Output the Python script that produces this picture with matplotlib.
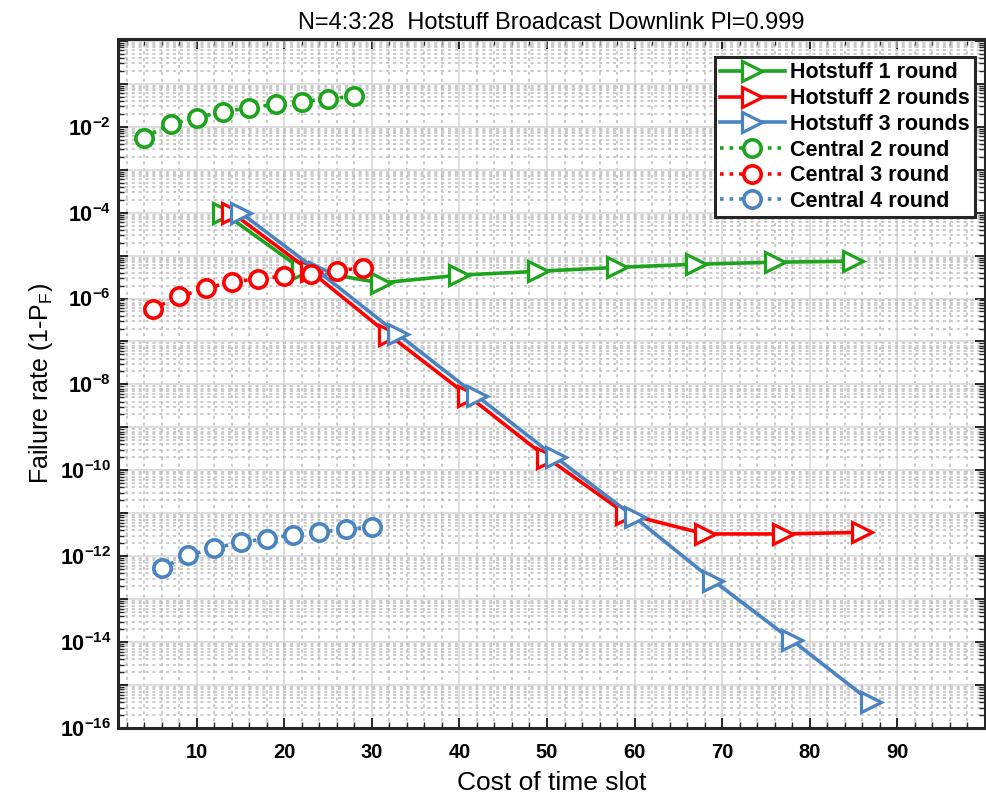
import matplotlib
matplotlib.use('Agg')
import matplotlib.pyplot as plt
from matplotlib.ticker import FixedLocator, MultipleLocator, FuncFormatter, LogLocator, NullFormatter
import numpy as np

# data
hs1_x = [13, 22, 31, 40, 49, 58, 67, 76, 85]
hs1_y = [1.0e-4, 4.8e-6, 2.3e-6, 3.5e-6, 4.3e-6, 5.3e-6, 6.3e-6, 7.0e-6, 7.4e-6]

hs2_x = [14, 23, 32, 41, 50, 59, 68, 77, 86]
hs2_y = [1.0e-4, 4.3e-6, 1.4e-7, 5.4e-9, 1.96e-10, 9.7e-12, 3.3e-12, 3.3e-12, 3.6e-12]

hs3_x = [15, 24, 33, 42, 51, 60, 69, 78, 87]
hs3_y = [1.0e-4, 4.1e-6, 1.46e-7, 5.4e-9, 2.0e-10, 8.1e-12, 2.7e-13, 1.1e-14, 4.1e-16]

c2_x = [4, 7, 10, 13, 16, 19, 22, 25, 28]
c2_y = [5.6e-3, 1.14e-2, 1.63e-2, 2.21e-2, 2.78e-2, 3.32e-2, 3.83e-2, 4.5e-2, 5.08e-2]

c3_x = [5, 8, 11, 14, 17, 20, 23, 26, 29]
c3_y = [5.75e-7, 1.12e-6, 1.71e-6, 2.44e-6, 2.86e-6, 3.31e-6, 3.82e-6, 4.48e-6, 5.15e-6]

c4_x = [6, 9, 12, 15, 18, 21, 24, 27, 30]
c4_y = [5.27e-13, 1.04e-12, 1.54e-12, 2.11e-12, 2.58e-12, 3.14e-12, 3.61e-12, 4.24e-12, 4.72e-12]

labels = ['Hotstuff 1 round', 'Hotstuff 2 rounds', 'Hotstuff 3 rounds',
          'Central 2 round', 'Central 3 round', 'Central 4 round']

GREEN = '#1ca41c'
RED = '#ff0000'
BLUE = '#4a84c0'

plt.rcParams['font.family'] = ['Liberation Sans', 'DejaVu Sans']
plt.rcParams['mathtext.fontset'] = 'custom'
plt.rcParams['mathtext.rm'] = 'Liberation Sans'
plt.rcParams['mathtext.bf'] = 'Liberation Sans:bold'

fig = plt.figure(figsize=(9.86, 8.01), dpi=100)
ax = fig.add_axes([0.1197, 0.0911, 0.879, 0.8602])

tri = dict(marker='>', ms=14, mew=2.3, mfc='white', lw=2.6)
circ = dict(marker='o', ms=12.5, mew=2.6, mfc='white', lw=2.6, ls=':')

ax.plot(hs1_x, hs1_y, color=GREEN, label=labels[0], **tri)
ax.plot(hs2_x, hs2_y, color=RED, label=labels[1], **tri)
ax.plot(hs3_x, hs3_y, color=BLUE, label=labels[2], **tri)
ax.plot(c2_x, c2_y, color=GREEN, label=labels[3], **circ)
ax.plot(c3_x, c3_y, color=RED, label=labels[4], **circ)
ax.plot(c4_x, c4_y, color=BLUE, label=labels[5], **circ)

ax.set_yscale('log')
ax.set_xlim(1, 100)
ax.set_ylim(1e-16, 1.1)

ax.xaxis.set_major_locator(FixedLocator(np.arange(10, 100, 10)))
ax.xaxis.set_minor_locator(MultipleLocator(2))
ax.yaxis.set_major_locator(FixedLocator([10.0 ** k for k in range(-16, 1)]))
ax.yaxis.set_minor_locator(LogLocator(base=10, subs=np.arange(2, 10), numticks=40))
ax.yaxis.set_minor_formatter(NullFormatter())


def ylab(v, pos):
    e = int(round(np.log10(v)))
    if e % 2 != 0 or e == 0:
        return ''
    return r'$\mathbf{10^{%d}}$' % e


ax.yaxis.set_major_formatter(FuncFormatter(ylab))

for lab in ax.get_xticklabels():
    lab.set_fontweight('bold')
ax.tick_params(axis='x', which='major', labelsize=14.5, pad=11)
ax.tick_params(axis='y', which='major', labelsize=15.5, pad=5)
ax.tick_params(which='both', direction='in', top=True, right=True, color='#262626')
ax.tick_params(which='major', length=7, width=1.4)
ax.tick_params(which='minor', length=4, width=1.0)

ax.grid(True, which='major', color='#d4d4d4', lw=1.1, ls='-')
ax.grid(True, which='minor', color='#bcbcbc', lw=1.1, ls=(0, (2, 2.5)))
ax.set_axisbelow(True)

for s in ax.spines.values():
    s.set_linewidth(2.2)
    s.set_color('#262626')

ax.set_title('N=4:3:28  Hotstuff Broadcast Downlink Pl=0.999', fontsize=17, pad=7)
ax.set_xlabel('Cost of time slot', fontsize=19, labelpad=6)
ax.set_ylabel(r'Failure rate (1-P$_\mathrm{F}$)', fontsize=18, labelpad=3)

leg = ax.legend(loc='upper right', bbox_to_anchor=(0.989, 0.974), borderaxespad=0,
                fancybox=False, edgecolor='#262626', framealpha=1,
                prop={'weight': 'bold', 'size': 15.5},
                handlelength=3.0, labelspacing=0.22, borderpad=0.25, handletextpad=0.25)
leg.get_frame().set_linewidth(2.2)

fig.savefig('out.png', dpi=100)
